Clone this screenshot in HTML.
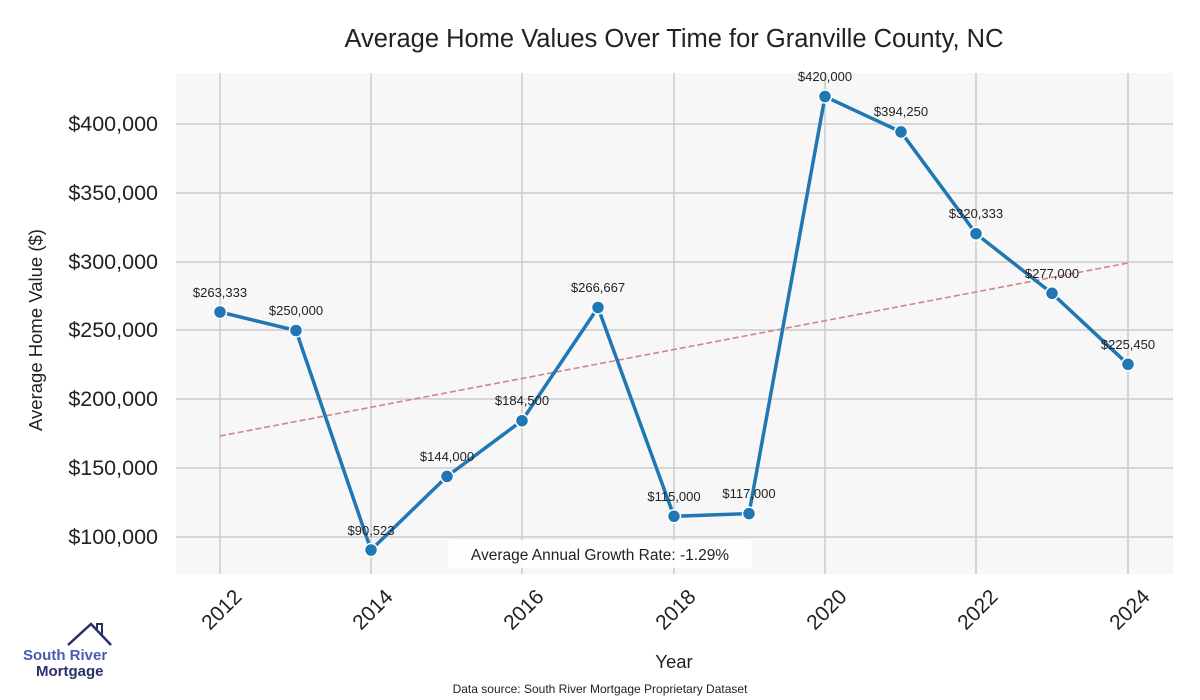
<!DOCTYPE html>
<html><head><meta charset="utf-8"><style>body{margin:0;background:#fff}svg{display:block}text{font-family:"Liberation Sans",sans-serif}</style></head><body>
<svg width="1200" height="700" viewBox="0 0 1200 700">
<rect x="176" y="73" width="997" height="501" fill="#f7f7f7"/>
<g stroke="#cccccc" stroke-width="1.5">
<line x1="220" y1="73" x2="220" y2="574"/><line x1="371" y1="73" x2="371" y2="574"/><line x1="522" y1="73" x2="522" y2="574"/><line x1="674" y1="73" x2="674" y2="574"/><line x1="825" y1="73" x2="825" y2="574"/><line x1="976" y1="73" x2="976" y2="574"/><line x1="1128" y1="73" x2="1128" y2="574"/>
<line x1="176" y1="124" x2="1173" y2="124"/><line x1="176" y1="193" x2="1173" y2="193"/><line x1="176" y1="262" x2="1173" y2="262"/><line x1="176" y1="330" x2="1173" y2="330"/><line x1="176" y1="399" x2="1173" y2="399"/><line x1="176" y1="468" x2="1173" y2="468"/><line x1="176" y1="537" x2="1173" y2="537"/>
</g>
<text x="674" y="47" font-size="25.5" text-anchor="middle" fill="#222">Average Home Values Over Time for Granville County, NC</text>
<g font-size="21.5" fill="#222" text-anchor="end">
<text x="158" y="131">$400,000</text><text x="158" y="200">$350,000</text><text x="158" y="269">$300,000</text><text x="158" y="337">$250,000</text><text x="158" y="406">$200,000</text><text x="158" y="475">$150,000</text><text x="158" y="544">$100,000</text>
</g>
<text transform="translate(42,330) rotate(-90)" font-size="18.5" text-anchor="middle" fill="#222">Average Home Value ($)</text>
<g font-size="21" fill="#222" text-anchor="end">
<text transform="translate(243,598) rotate(-45)">2012</text><text transform="translate(394,598) rotate(-45)">2014</text><text transform="translate(545,598) rotate(-45)">2016</text><text transform="translate(697,598) rotate(-45)">2018</text><text transform="translate(848,598) rotate(-45)">2020</text><text transform="translate(999,598) rotate(-45)">2022</text><text transform="translate(1151,598) rotate(-45)">2024</text>
</g>
<text x="674" y="668" font-size="18.5" text-anchor="middle" fill="#222">Year</text>
<text x="600" y="693" font-size="12" text-anchor="middle" fill="#222">Data source: South River Mortgage Proprietary Dataset</text>
<line x1="220" y1="436" x2="1128" y2="263" stroke="#d98080" stroke-width="1.6" stroke-dasharray="6,3"/>
<polyline fill="none" stroke="#1f77b4" stroke-width="3.5" points="220,312 296,330.5 371,550 447,476.4 522,420.7 598,307.5 674,516.3 749,513.6 825,96.5 901,131.9 976,233.7 1052,293.3 1128,364.3"/>
<g fill="#1f77b4" stroke="#fff" stroke-width="1.5">
<circle cx="220" cy="312" r="6.5"/><circle cx="296" cy="330.5" r="6.5"/><circle cx="371" cy="550" r="6.5"/><circle cx="447" cy="476.4" r="6.5"/><circle cx="522" cy="420.7" r="6.5"/><circle cx="598" cy="307.5" r="6.5"/><circle cx="674" cy="516.3" r="6.5"/><circle cx="749" cy="513.6" r="6.5"/><circle cx="825" cy="96.5" r="6.5"/><circle cx="901" cy="131.9" r="6.5"/><circle cx="976" cy="233.7" r="6.5"/><circle cx="1052" cy="293.3" r="6.5"/><circle cx="1128" cy="364.3" r="6.5"/>
</g>
<g font-size="13" fill="#222" text-anchor="middle">
<text x="220" y="297">$263,333</text><text x="296" y="315">$250,000</text><text x="371" y="535">$90,523</text><text x="447" y="461">$144,000</text><text x="522" y="405">$184,500</text><text x="598" y="292">$266,667</text><text x="674" y="501">$115,000</text><text x="749" y="498">$117,000</text><text x="825" y="81">$420,000</text><text x="901" y="116">$394,250</text><text x="976" y="218">$320,333</text><text x="1052" y="278">$277,000</text><text x="1128" y="349">$225,450</text>
</g>
<rect x="448" y="540" width="304" height="28" rx="4" fill="#fff" opacity="0.85"/>
<text x="600" y="560" font-size="15.5" text-anchor="middle" fill="#222">Average Annual Growth Rate: -1.29%</text>
<polyline points="68,645 91,624 111,645" fill="none" stroke="#2a2f6b" stroke-width="2.5"/>
<polyline points="97,629 97,624 102,624 102,635" fill="none" stroke="#2a2f6b" stroke-width="2"/>
<text x="23" y="660" font-size="15" font-weight="bold" fill="#4a5bb0">South River</text>
<text x="36" y="676" font-size="15" font-weight="bold" fill="#2a2f6b">Mortgage</text>
</svg>
</body></html>
